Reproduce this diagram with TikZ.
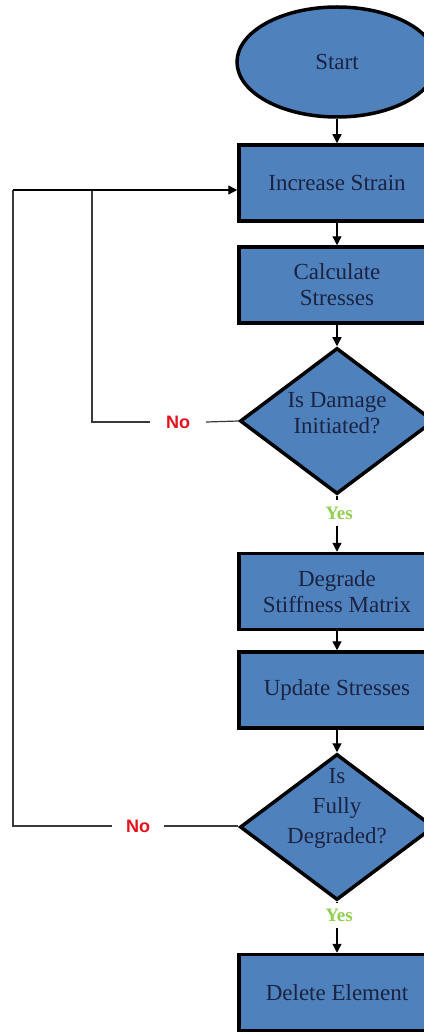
\documentclass[tikz,border=0pt]{standalone}
\usepackage{fontspec}
\setmainfont{Liberation Serif}
\newfontfamily\labelsans{Liberation Sans}
\usetikzlibrary{shapes.geometric,arrows.meta}
\definecolor{boxblue}{HTML}{4F81BD}
\definecolor{txtnavy}{HTML}{1B2340}
\definecolor{noRed}{HTML}{E3121B}
\definecolor{yesGreen}{HTML}{92D050}
\definecolor{loopgray}{HTML}{3A3A3A}
\begin{document}
\begin{tikzpicture}[x=1pt,y=-1pt,
  shapebase/.style={draw=black, line width=3.5pt, fill=boxblue, inner sep=0pt,
    text=txtnavy, font=\fontsize{23}{26}\selectfont, align=center},
  proc/.style={shapebase, rectangle, minimum width=196pt, minimum height=76pt},
  term/.style={shapebase, ellipse, minimum width=200pt, minimum height=110pt},
  decision/.style={shapebase, diamond, minimum width=194pt, minimum height=146pt},
  dtext/.style={text=txtnavy, font=\fontsize{23}{26}\selectfont, align=center, inner sep=0pt},
  nolabel/.style={text=noRed, font=\labelsans\bfseries\fontsize{18}{20}\selectfont, inner xsep=16pt, inner ysep=2pt},
  yeslabel/.style={text=yesGreen, font=\bfseries\fontsize{19}{21}\selectfont, inner xsep=2pt, inner ysep=6pt},
  flow/.style={draw=black, line width=1.3pt, -{Triangle[length=9pt,width=9pt]}},
  plain/.style={draw=black, line width=1.3pt},
  loop/.style={draw=loopgray, line width=1.2pt}
]
\useasboundingbox (0,0) rectangle (423,1032);
\fill[white] (0,0) rectangle (423,1032);

\node[term] (start) at (337,62) {Start};
\node[proc] (inc) at (337,183) {Increase Strain};
\node[proc] (calc) at (337,285) {Calculate\\Stresses};
\node[decision] (d1) at (337,421) {};
\node[dtext] (d1t) at (337,413) {Is Damage\\Initiated?};
\node[proc] (deg) at (337,591.5) {Degrade\\Stiffness Matrix};
\node[proc] (upd) at (337,690) {Update Stresses};
\node[decision] (d2) at (337,827) {};
\node[dtext, font=\fontsize{23}{30}\selectfont] (d2t) at (337,808) {Is\\Fully\\Degraded?};
\node[proc] (del) at (337,992.5) {Delete Element};

\node[yeslabel] (yes1) at (339,513) {Yes};
\node[yeslabel] (yes2) at (339,915) {Yes};
\node[nolabel] (no1) at (178,422) {No};
\node[nolabel, inner xsep=14pt] (no2) at (138,826) {No};

\coordinate (j1) at (92,190);
\coordinate (j0) at (13,190);

\draw[flow] (start) -- (inc);
\draw[flow] (inc) -- (calc);
\draw[flow] (calc) -- (d1);
\draw[plain] (d1.south) -- (d1.south |- yes1.north);
\draw[flow] (deg.north |- yes1.south) -- (deg.north);
\draw[flow] (deg) -- (upd);
\draw[flow] (upd) -- (d2);
\draw[plain] (d2.south) -- (d2.south |- yes2.north);
\draw[flow] (del.north |- yes2.south) -- (del.north);

\draw[loop] (d1.west) -- (no1.east);
\draw[loop] (no1.west) -| (j1);
\draw[loop] (d2.west |- no2.east) -- (no2.east);
\draw[loop] (no2.west) -| (j0);
\draw[flow] (j0) -- (inc.west |- j0);
\end{tikzpicture}
\end{document}
